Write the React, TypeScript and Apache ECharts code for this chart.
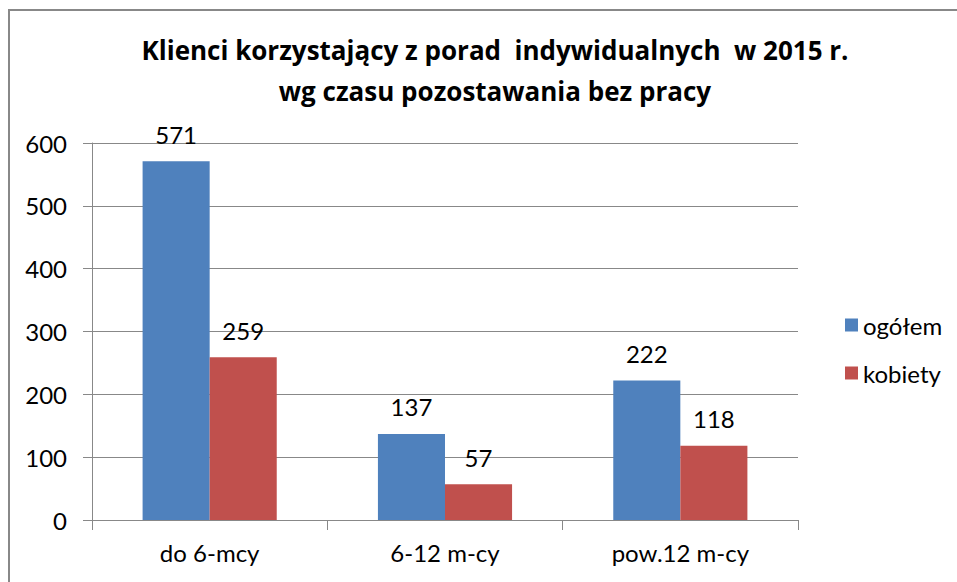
import React, { useEffect, useRef } from "react";
import * as echarts from "echarts";

const categories = ["do 6-mcy", "6-12 m-cy", "pow.12 m-cy"];
const ogolem = [571, 137, 222];
const kobiety = [259, 57, 118];
const seriesNames = ["ogółem", "kobiety"];
const titleLines = [
  "Klienci korzystający z porad  indywidualnych  w 2015 r.",
  "wg czasu pozostawania bez pracy",
];

const FONT = "Lato, 'Noto Sans', sans-serif";
const TITLE_FONT = "'Open Sans', 'Noto Sans', sans-serif";

export default function App() {
  const ref = useRef<HTMLDivElement>(null);
  useEffect(() => {
    if (!ref.current) return;
    const chart = echarts.init(ref.current, undefined, { renderer: "svg" });
    const labelStyle = {
      show: true,
      position: "top" as const,
      distance: 15,
      fontSize: 24,
      color: "#000",
      fontFamily: FONT,
    };
    chart.setOption({
      animation: false,
      backgroundColor: "#fff",
      title: {
        text: titleLines.join("\n"),
        left: 490,
        top: 24,
        textAlign: "center",
        textStyle: {
          fontSize: 26,
          fontWeight: "bold",
          color: "#000",
          fontFamily: TITLE_FONT,
          lineHeight: 41,
        },
      },
      graphic: [
        {
          type: "rect",
          shape: { x: 9, y: 10, width: 970, height: 600 },
          style: { fill: "none", stroke: "#888", lineWidth: 2 },
          silent: true,
        },
      ],
      legend: {
        orient: "vertical",
        left: 840,
        top: 308,
        itemWidth: 13,
        itemHeight: 13,
        itemGap: 24,
        icon: "rect",
        textStyle: { fontSize: 24, color: "#000", fontFamily: FONT },
        data: seriesNames,
      },
      grid: { left: 92, right: 159, top: 143, bottom: 62 },
      xAxis: {
        type: "category",
        data: categories,
        axisLine: { lineStyle: { color: "#888" } },
        axisTick: { show: true, length: 10, lineStyle: { color: "#888" } },
        axisLabel: { fontSize: 24, color: "#000", margin: 20, fontFamily: FONT },
      },
      yAxis: {
        type: "value",
        min: 0,
        max: 600,
        interval: 100,
        axisLine: { show: true, lineStyle: { color: "#888" } },
        axisTick: { show: true, length: 9, lineStyle: { color: "#888" } },
        axisLabel: { fontSize: 24, color: "#000", margin: 25, fontFamily: FONT },
        splitLine: { lineStyle: { color: "#888" } },
      },
      series: [
        {
          name: seriesNames[0],
          type: "bar",
          data: ogolem,
          itemStyle: { color: "#4F81BD" },
          barGap: "0%",
          barCategoryGap: "43%",
          label: labelStyle,
        },
        {
          name: seriesNames[1],
          type: "bar",
          data: kobiety,
          itemStyle: { color: "#C0504D" },
          barGap: "0%",
          barCategoryGap: "43%",
          label: labelStyle,
        },
      ],
    });
    return () => chart.dispose();
  }, []);
  return (
    <div
      ref={ref}
      style={{ position: "absolute", left: 0, top: 0, width: 957, height: 582 }}
    />
  );
}
